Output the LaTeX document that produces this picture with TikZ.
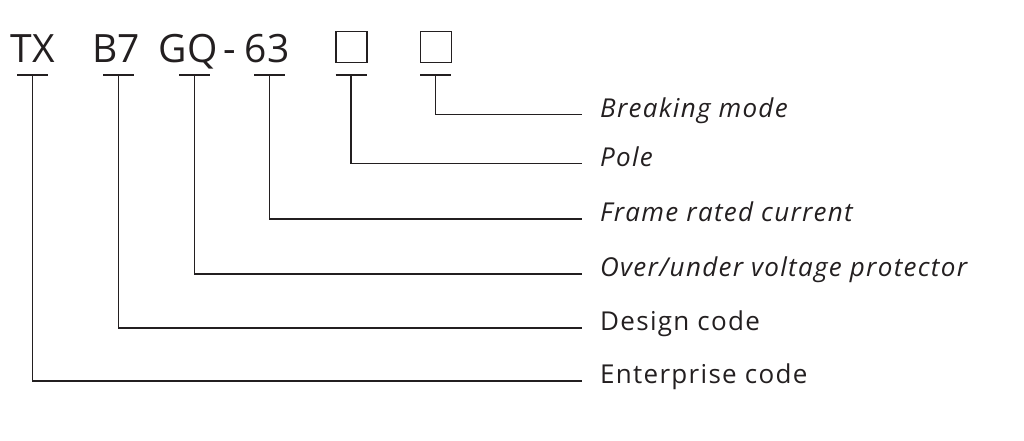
\documentclass[tikz,border=0pt]{standalone}
\usepackage{fontspec}
\setmainfont{Open Sans}
\usetikzlibrary{calc}
\definecolor{inkline}{HTML}{231F20}

\begin{document}
\begin{tikzpicture}[x=1pt,y=-1pt,
  code line/.style={inkline, line width=1.6pt},
  code text/.style={inkline, inner sep=0, anchor=base, font=\fontsize{39}{44}\selectfont},
  code box/.style={draw=inkline, line width=1.6pt, inner sep=0, minimum size=31pt},
  tag text/.style={inkline, inner sep=0, anchor=mid west, font=\fontsize{26}{30}\selectfont\addfontfeature{LetterSpace=5}}]
\useasboundingbox (0,0) rectangle (1024,441);
% model code
\node[code text] (TX) at (33,63) {TX};
\node[code text] (B7) at (116,63) {B7};
\node[code text] (GQ) at (188,63) {GQ};
\node[code text] (dash) at (230,63) {-};
\node[code text] (63) at (267,63) {63};
\node[code box] (boxA) at (351.5,47) {};
\node[code box] (boxB) at (436,47) {};
% bars, leaders and meanings
\foreach \x/\y/\n/\t in {435.5/114.5/bm/{\itshape Breaking mode},
                         351/163.5/po/{\itshape Pole},
                         269.5/219/fr/{\itshape Frame rated current},
                         194.5/274/ov/{\itshape Over/under voltage protector},
                         118.5/328/de/{Design code},
                         32.5/381/en/{Enterprise code}} {
 \coordinate (bar\n) at (\x,75);
 \draw[code line] (\x-15.5,75) --++(31,0);
 \node[tag text] (tag\n) at (600,\y) {\t};
 \draw[code line] (bar\n) |- ([xshift=-18pt]tag\n.mid west);
}
\end{tikzpicture}
\end{document}
